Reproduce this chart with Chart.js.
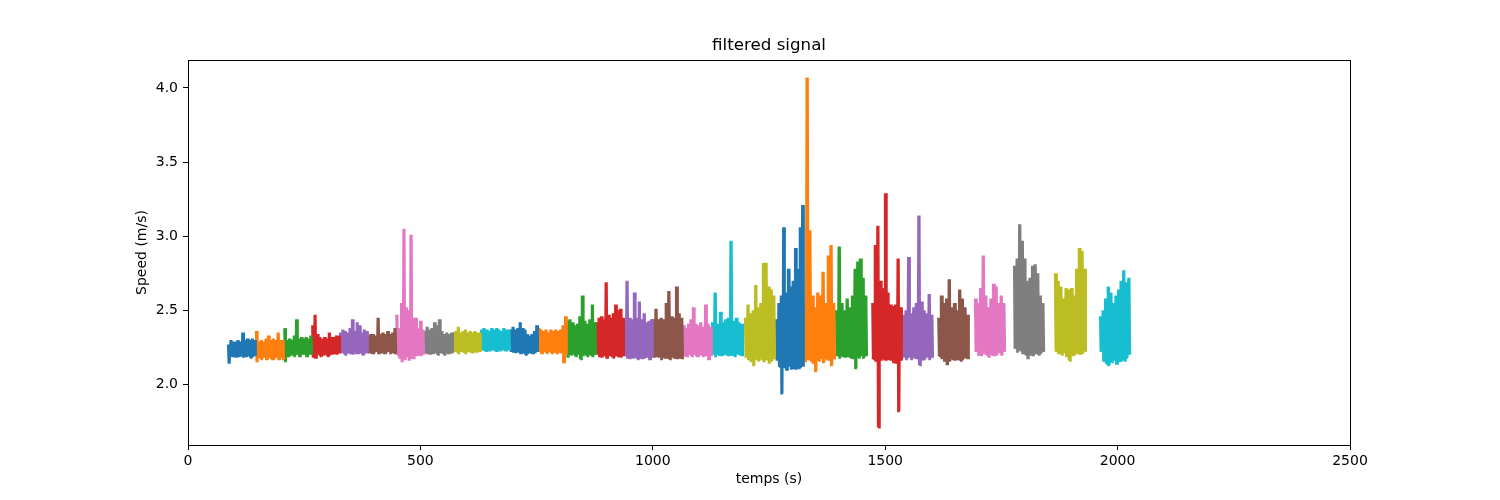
<!DOCTYPE html>
<html>
<head>
<meta charset="utf-8">
<title>filtered signal</title>
<script src="https://cdn.jsdelivr.net/npm/chart.js@4.4.1/dist/chart.umd.min.js"></script>
<style>
  html, body { margin: 0; padding: 0; background: #fff; }
  #wrap { width: 1500px; height: 500px; }
</style>
</head>
<body>
<div id="wrap"><canvas id="signalChart" width="1500" height="500"></canvas></div>
<script>
  // start / end time of each recorded segment (s)
  const segStart = [86, 146, 207, 267, 327, 387, 448, 508, 570, 630,
                    693, 753, 815, 878, 938, 1000, 1065, 1127, 1198, 1265,
                    1325, 1394, 1472, 1538, 1614, 1693, 1777, 1865, 1962];
  const segEnd   = [146, 207, 267, 327, 387, 448, 508, 570, 630, 693,
                    753, 815, 878, 938, 1000, 1065, 1127, 1194, 1263, 1325,
                    1392, 1461, 1536, 1603, 1680, 1758, 1842, 1932, 2027];

  // upper envelope of the filtered speed in each segment (m/s)
  const hiVals = [
    [2.27, 2.30, 2.29, 2.29, 2.30, 2.29, 2.35, 2.30, 2.31, 2.30, 2.31, 2.30],
    [2.36, 2.29, 2.30, 2.29, 2.31, 2.33, 2.30, 2.31, 2.30, 2.35, 2.30, 2.30],
    [2.38, 2.30, 2.31, 2.30, 2.33, 2.44, 2.31, 2.32, 2.31, 2.32, 2.31, 2.33],
    [2.40, 2.47, 2.34, 2.32, 2.31, 2.32, 2.31, 2.35, 2.32, 2.32, 2.33, 2.33],
    [2.35, 2.37, 2.36, 2.35, 2.38, 2.44, 2.36, 2.42, 2.40, 2.35, 2.37, 2.36],
    [2.33, 2.34, 2.34, 2.33, 2.45, 2.34, 2.35, 2.34, 2.36, 2.34, 2.35, 2.38],
    [2.47, 2.38, 2.55, 3.05, 2.52, 2.50, 3.01, 2.45, 2.45, 2.38, 2.43, 2.37],
    [2.36, 2.39, 2.37, 2.38, 2.42, 2.40, 2.44, 2.36, 2.34, 2.35, 2.34, 2.35],
    [2.35, 2.36, 2.39, 2.35, 2.36, 2.37, 2.35, 2.36, 2.35, 2.36, 2.35, 2.35],
    [2.37, 2.38, 2.37, 2.36, 2.38, 2.37, 2.38, 2.37, 2.36, 2.38, 2.37, 2.37],
    [2.37, 2.39, 2.37, 2.38, 2.42, 2.38, 2.37, 2.34, 2.33, 2.34, 2.36, 2.40],
    [2.38, 2.37, 2.36, 2.37, 2.35, 2.37, 2.36, 2.37, 2.36, 2.37, 2.40, 2.46],
    [2.43, 2.44, 2.42, 2.40, 2.41, 2.46, 2.60, 2.43, 2.41, 2.44, 2.54, 2.42],
    [2.42, 2.45, 2.46, 2.44, 2.69, 2.47, 2.45, 2.48, 2.54, 2.50, 2.51, 2.45],
    [2.43, 2.70, 2.45, 2.44, 2.62, 2.45, 2.56, 2.44, 2.48, 2.42, 2.43, 2.44],
    [2.44, 2.51, 2.44, 2.45, 2.44, 2.55, 2.63, 2.46, 2.45, 2.66, 2.48, 2.45],
    [2.40, 2.38, 2.41, 2.44, 2.52, 2.41, 2.40, 2.42, 2.39, 2.54, 2.41, 2.39],
    [2.42, 2.62, 2.41, 2.49, 2.42, 2.44, 2.45, 2.97, 2.43, 2.45, 2.42, 2.41],
    [2.45, 2.54, 2.48, 2.50, 2.67, 2.52, 2.55, 2.82, 2.82, 2.66, 2.64, 2.60],
    [2.44, 2.55, 2.60, 3.06, 2.62, 2.78, 2.66, 2.70, 2.92, 2.78, 3.06, 3.21],
    [2.55, 4.07, 3.04, 2.60, 2.52, 2.62, 2.60, 2.76, 2.55, 2.87, 2.94, 2.55],
    [2.50, 2.93, 2.55, 2.50, 2.58, 2.52, 2.60, 2.78, 2.83, 2.85, 2.72, 2.60],
    [2.55, 2.94, 3.07, 2.70, 2.65, 3.29, 2.62, 2.54, 2.53, 2.54, 2.85, 2.52],
    [2.47, 2.50, 2.86, 2.48, 2.52, 2.55, 3.14, 2.56, 2.50, 2.48, 2.61, 2.47],
    [2.45, 2.60, 2.55, 2.58, 2.71, 2.52, 2.55, 2.50, 2.64, 2.58, 2.52, 2.47],
    [2.58, 2.55, 2.65, 2.87, 2.60, 2.52, 2.58, 2.68, 2.66, 2.55, 2.60, 2.55],
    [2.80, 2.85, 3.08, 2.97, 2.85, 2.70, 2.72, 2.80, 2.81, 2.75, 2.60, 2.55],
    [2.75, 2.70, 2.66, 2.58, 2.65, 2.64, 2.65, 2.60, 2.78, 2.92, 2.90, 2.78],
    [2.46, 2.50, 2.58, 2.66, 2.62, 2.55, 2.60, 2.64, 2.70, 2.77, 2.69, 2.72]
  ];

  // lower envelope of the filtered speed in each segment (m/s)
  const loVals = [
    [2.14, 2.19, 2.19, 2.18, 2.19, 2.19, 2.18, 2.19, 2.19, 2.18, 2.19, 2.19],
    [2.15, 2.18, 2.17, 2.18, 2.17, 2.18, 2.17, 2.17, 2.18, 2.17, 2.18, 2.17],
    [2.15, 2.19, 2.19, 2.20, 2.19, 2.20, 2.19, 2.20, 2.20, 2.19, 2.20, 2.20],
    [2.18, 2.18, 2.20, 2.19, 2.20, 2.20, 2.19, 2.20, 2.20, 2.21, 2.20, 2.21],
    [2.21, 2.21, 2.20, 2.21, 2.21, 2.20, 2.21, 2.21, 2.21, 2.20, 2.21, 2.21],
    [2.21, 2.21, 2.21, 2.22, 2.21, 2.21, 2.21, 2.21, 2.22, 2.21, 2.21, 2.21],
    [2.20, 2.18, 2.15, 2.17, 2.19, 2.16, 2.18, 2.17, 2.19, 2.20, 2.19, 2.20],
    [2.21, 2.21, 2.20, 2.21, 2.21, 2.20, 2.21, 2.21, 2.20, 2.21, 2.21, 2.21],
    [2.22, 2.22, 2.21, 2.22, 2.22, 2.21, 2.22, 2.22, 2.21, 2.22, 2.22, 2.22],
    [2.23, 2.23, 2.22, 2.23, 2.23, 2.23, 2.22, 2.23, 2.23, 2.23, 2.23, 2.23],
    [2.22, 2.22, 2.21, 2.22, 2.21, 2.21, 2.20, 2.21, 2.21, 2.21, 2.21, 2.22],
    [2.22, 2.21, 2.22, 2.21, 2.22, 2.21, 2.22, 2.21, 2.22, 2.21, 2.15, 2.20],
    [2.18, 2.20, 2.20, 2.19, 2.20, 2.17, 2.19, 2.20, 2.19, 2.20, 2.19, 2.20],
    [2.20, 2.19, 2.18, 2.19, 2.18, 2.19, 2.19, 2.18, 2.19, 2.19, 2.18, 2.19],
    [2.19, 2.18, 2.17, 2.18, 2.18, 2.17, 2.18, 2.17, 2.18, 2.18, 2.17, 2.18],
    [2.18, 2.19, 2.18, 2.17, 2.18, 2.18, 2.17, 2.18, 2.18, 2.17, 2.18, 2.17],
    [2.19, 2.19, 2.20, 2.19, 2.20, 2.19, 2.19, 2.20, 2.19, 2.19, 2.17, 2.19],
    [2.20, 2.19, 2.20, 2.19, 2.20, 2.20, 2.19, 2.20, 2.19, 2.20, 2.20, 2.19],
    [2.18, 2.17, 2.15, 2.13, 2.17, 2.16, 2.17, 2.15, 2.17, 2.14, 2.16, 2.17],
    [2.16, 2.12, 1.94, 2.11, 2.10, 2.12, 2.10, 2.11, 2.10, 2.11, 2.12, 2.12],
    [2.15, 2.17, 2.16, 2.14, 2.09, 2.16, 2.17, 2.15, 2.17, 2.16, 2.13, 2.17],
    [2.19, 2.18, 2.19, 2.18, 2.19, 2.18, 2.17, 2.11, 2.18, 2.19, 2.18, 2.19],
    [2.17, 2.16, 1.71, 2.16, 2.17, 2.16, 2.17, 2.16, 2.15, 2.14, 1.82, 2.16],
    [2.18, 2.17, 2.18, 2.17, 2.18, 2.17, 2.13, 2.16, 2.17, 2.18, 2.17, 2.18],
    [2.19, 2.17, 2.16, 2.13, 2.16, 2.17, 2.16, 2.17, 2.16, 2.17, 2.18, 2.17],
    [2.22, 2.20, 2.19, 2.21, 2.20, 2.18, 2.20, 2.19, 2.20, 2.21, 2.20, 2.22],
    [2.24, 2.22, 2.23, 2.21, 2.20, 2.17, 2.20, 2.19, 2.21, 2.20, 2.21, 2.22],
    [2.22, 2.21, 2.20, 2.21, 2.19, 2.16, 2.19, 2.20, 2.21, 2.20, 2.21, 2.22],
    [2.22, 2.16, 2.14, 2.13, 2.15, 2.16, 2.14, 2.15, 2.16, 2.16, 2.18, 2.20]
  ];

  const xTicks = [0, 500, 1000, 1500, 2000, 2500];
  const yTicks = [2.0, 2.5, 3.0, 3.5, 4.0];

  // matplotlib tab10 cycle, as it falls on each segment
  const segColors = [
    '#1f77b4', '#ff7f0e', '#2ca02c', '#d62728', '#9467bd', '#8c564b', '#e377c2', '#7f7f7f', '#bcbd22', '#17becf',
    '#1f77b4', '#ff7f0e', '#2ca02c', '#d62728', '#9467bd', '#8c564b', '#e377c2', '#17becf', '#bcbd22',
    '#1f77b4', '#ff7f0e', '#2ca02c', '#d62728', '#9467bd', '#8c564b', '#e377c2', '#7f7f7f', '#bcbd22', '#17becf'
  ];

  // each envelope sample is drawn as two up/down swings so the noisy band looks solid
  const SWINGS = 2;
  const datasets = segStart.map((t0, s) => {
    const hi = hiVals[s];
    const lo = loVals[s];
    const n = hi.length * SWINGS * 2;
    const dt = (segEnd[s] - t0) / (n - 1);
    const pts = [];
    for (let k = 0; k < n; k++) {
      const i = Math.floor(k / (SWINGS * 2));
      pts.push({ x: t0 + k * dt, y: (k % 2 === 0) ? hi[i] : lo[i] });
    }
    return {
      data: pts,
      borderColor: segColors[s],
      borderWidth: 2,
      pointRadius: 0,
      tension: 0,
      fill: false
    };
  });

  // matplotlib-like frame around the axes
  const frame = {
    id: 'frame',
    afterDraw(chart) {
      const { ctx, chartArea: a } = chart;
      ctx.save();
      ctx.strokeStyle = '#000';
      ctx.lineWidth = 1;
      ctx.strokeRect(Math.round(a.left) + 0.5, Math.round(a.top) + 0.5,
                     Math.round(a.right - a.left), Math.round(a.bottom - a.top));
      ctx.restore();
    }
  };

  const font = { family: 'DejaVu Sans', size: 14 };

  const ctx = document.getElementById('signalChart').getContext('2d');
  new Chart(ctx, {
    type: 'line',
    data: { datasets: datasets },
    plugins: [frame],
    options: {
      responsive: false,
      animation: false,
      devicePixelRatio: 1,
      layout: { padding: { left: 120, right: 150, top: 0, bottom: 0 } },
      plugins: {
        legend: { display: false },
        tooltip: { enabled: false }
      },
      scales: {
        x: {
          type: 'linear',
          min: 0,
          max: 2500,
          afterFit: s => { s.height = 55; },
          afterBuildTicks: s => { s.ticks = xTicks.map(v => ({ value: v })); },
          ticks: { color: '#000', font: font, padding: 3, maxRotation: 0,
                   callback: v => String(v) },
          grid: { drawOnChartArea: false, drawTicks: true, tickLength: 5, color: '#000' },
          border: { display: false },
          title: { display: true, text: 'temps (s)', color: '#000', font: font,
                   padding: { top: 0, bottom: 12 } }
        },
        // top axis only carries the title, so it is centred over the plot area
        top: {
          type: 'linear',
          position: 'top',
          min: 0,
          max: 2500,
          afterFit: s => { s.height = 60; },
          ticks: { display: false },
          grid: { display: false },
          border: { display: false },
          title: { display: true, text: 'filtered signal', color: '#000',
                   font: { family: 'DejaVu Sans', size: 16.7, lineHeight: 1 },
                   padding: { top: 37, bottom: 0 } }
        },
        y: {
          type: 'linear',
          min: 1.592,
          max: 4.188,
          afterFit: s => { s.width = 68; },
          afterBuildTicks: s => { s.ticks = yTicks.map(v => ({ value: v })); },
          ticks: { color: '#000', font: font, padding: 5,
                   callback: v => v.toFixed(1) },
          grid: { drawOnChartArea: false, drawTicks: true, tickLength: 5, color: '#000' },
          border: { display: false },
          title: { display: true, text: 'Speed (m/s)', color: '#000', font: font,
                   padding: { top: 14, bottom: 0 } }
        }
      }
    }
  });
</script>
</body>
</html>
